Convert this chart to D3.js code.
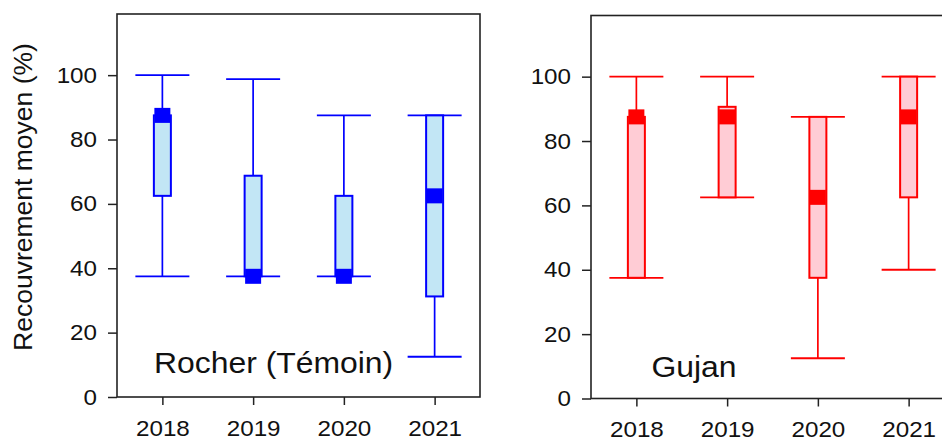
<!DOCTYPE html>
<html>
<head>
<meta charset="utf-8">
<script src="https://cdn.jsdelivr.net/npm/d3@7"></script>
<style>
  html, body { margin: 0; padding: 0; background: #fff; }
  svg { display: block; }
  text { font-family: "Liberation Sans", Arial, Helvetica, sans-serif; fill: #111; }
</style>
</head>
<body>
<svg id="chart" width="942" height="441"></svg>
<script>
const years = ["2018", "2019", "2020", "2021"];
const yTicks = [0, 20, 40, 60, 80, 100];

const rocherMin = [37.5, 37.5, 37.5, 12.5];
const rocherQ1  = [62.5, 37.5, 37.5, 31.25];
const rocherMed = [87.5, 37.5, 37.5, 62.5];
const rocherQ3  = [87.5, 68.75, 62.5, 87.5];
const rocherMax = [100, 98.75, 87.5, 87.5];

const gujanMin = [37.5, 62.5, 12.5, 40];
const gujanQ1  = [37.5, 62.5, 37.5, 62.5];
const gujanMed = [87.5, 87.5, 62.5, 87.5];
const gujanQ3  = [87.5, 90.625, 87.5, 100];
const gujanMax = [100, 100, 87.5, 100];

const yLabel = "Recouvrement moyen (%)";

const panels = [
  { name: "Rocher (Témoin)", min: rocherMin, q1: rocherQ1, med: rocherMed, q3: rocherQ3, max: rocherMax,
    stroke: "#0000FF", fill: "#C2E6F5", left: 117, right: 480, top: 14, bottom: 397, labelX: 154, labelY: 373 },
  { name: "Gujan", min: gujanMin, q1: gujanQ1, med: gujanMed, q3: gujanQ3, max: gujanMax,
    stroke: "#FF0000", fill: "#FFCCD5", left: 591, right: 954, top: 15.5, bottom: 398.5, labelX: 651.5, labelY: 377 }
];

const svg = d3.select("#chart");
const axisColor = "#222";
const tickFont = 22;
const stretch = 1.1;

panels.forEach(p => {
  const g = svg.append("g");
  const x = d3.scalePoint().domain(years).range([p.left, p.right]).padding(0.5);
  const y = d3.scaleLinear().domain([0, 119]).range([p.bottom, p.top]);

  // y axis
  const ya = g.append("g").attr("transform", `translate(${p.left},0)`)
    .call(d3.axisLeft(y).tickValues(yTicks).tickSize(9).tickPadding(12).tickFormat(d3.format("d")));
  ya.select(".domain").remove();
  ya.selectAll(".tick line").attr("stroke", axisColor).attr("stroke-width", 1.5);
  ya.selectAll(".tick text").attr("font-size", tickFont).attr("fill", "#111")
    .style("font-family", "'Liberation Sans', Arial, sans-serif")
    .attr("x", 0).attr("transform", `translate(-20,0) scale(${stretch},1)`);

  // x axis
  const xa = g.append("g").attr("transform", `translate(0,${p.bottom})`)
    .call(d3.axisBottom(x).tickSize(8).tickPadding(15));
  xa.select(".domain").remove();
  xa.selectAll(".tick line").attr("stroke", axisColor).attr("stroke-width", 1.5);
  xa.selectAll(".tick text").attr("font-size", tickFont).attr("fill", "#111")
    .style("font-family", "'Liberation Sans', Arial, sans-serif")
    .attr("transform", `scale(${stretch},1)`);

  // frame
  g.append("rect")
    .attr("x", p.left).attr("y", p.top)
    .attr("width", p.right - p.left).attr("height", p.bottom - p.top)
    .attr("fill", "none").attr("stroke", axisColor).attr("stroke-width", 1.6);

  const idx = d3.range(years.length);
  const bx = g.append("g");

  // whisker stems
  bx.selectAll("line.stem").data(idx).join("line").attr("class", "stem")
    .attr("x1", i => x(years[i])).attr("x2", i => x(years[i]))
    .attr("y1", i => y(p.min[i])).attr("y2", i => y(p.max[i]))
    .attr("stroke", p.stroke).attr("stroke-width", 1.7);

  // caps
  ["min", "max"].forEach(k => {
    bx.selectAll("line.cap-" + k).data(idx).join("line").attr("class", "cap-" + k)
      .attr("x1", i => x(years[i]) - 27).attr("x2", i => x(years[i]) + 27)
      .attr("y1", i => y(p[k][i])).attr("y2", i => y(p[k][i]))
      .attr("stroke", p.stroke).attr("stroke-width", 1.8);
  });

  // boxes
  bx.selectAll("rect.box").data(idx).join("rect").attr("class", "box")
    .attr("x", i => x(years[i]) - 8.5).attr("width", 17)
    .attr("y", i => y(p.q3[i])).attr("height", i => y(p.q1[i]) - y(p.q3[i]))
    .attr("fill", p.fill).attr("stroke", p.stroke).attr("stroke-width", 2);

  // median markers
  bx.selectAll("rect.med").data(idx).join("rect").attr("class", "med")
    .attr("x", i => x(years[i]) - 8).attr("width", 16)
    .attr("y", i => y(p.med[i]) - 7.5).attr("height", 15)
    .attr("fill", p.stroke);

  // panel label
  g.append("text")
    .attr("transform", `translate(${p.labelX},${p.labelY}) scale(${stretch},1)`)
    .attr("font-size", 29).text(p.name);
});

// y axis title
svg.append("text")
  .attr("transform", "rotate(-90)")
  .attr("x", -197).attr("y", 32)
  .attr("text-anchor", "middle")
  .attr("font-size", 26.5)
  .text(yLabel);
</script>
</body>
</html>
